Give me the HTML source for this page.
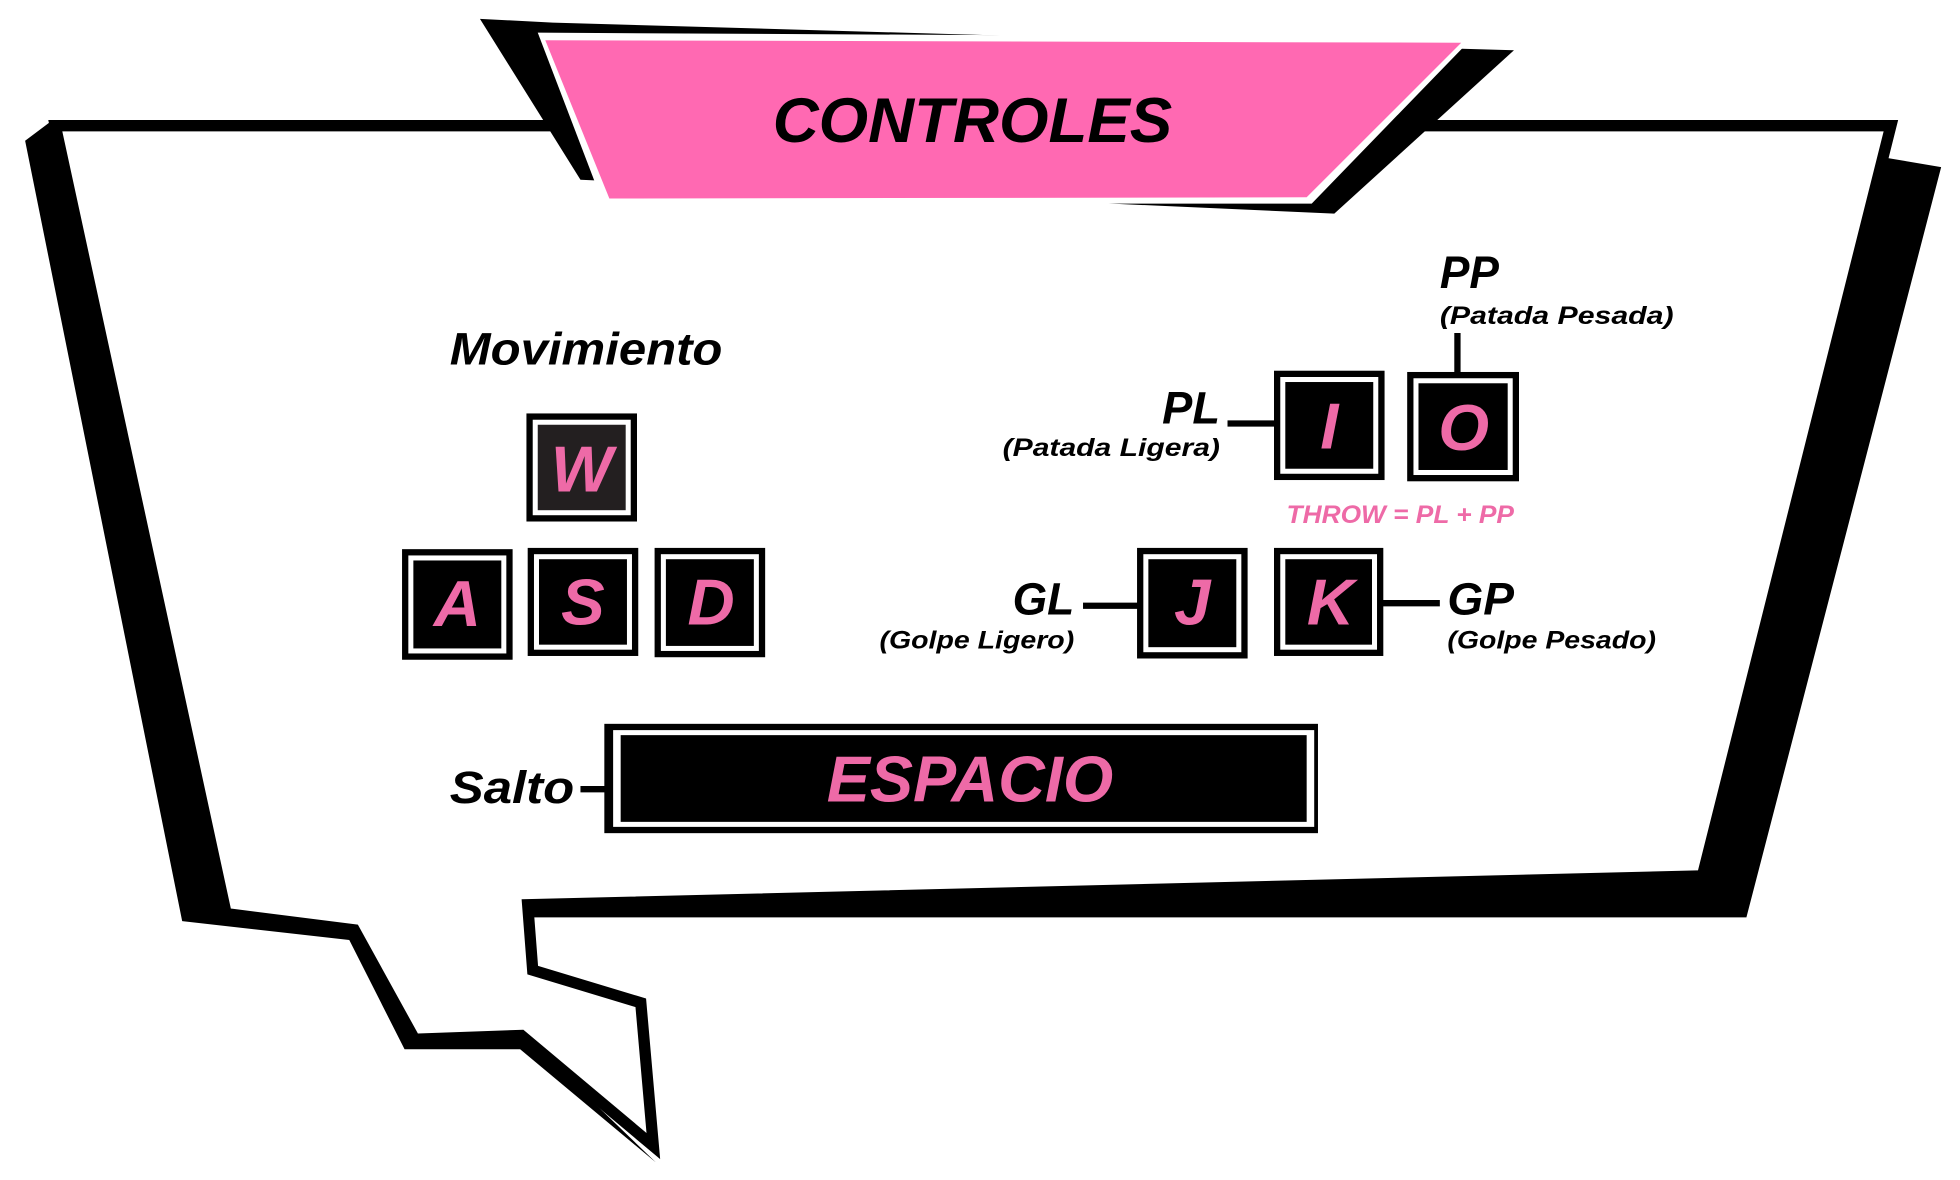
<!DOCTYPE html>
<html><head><meta charset="utf-8"><style>
html,body{margin:0;padding:0;background:#fff;}
svg{display:block;}
text{font-family:"Liberation Sans",sans-serif;font-weight:bold;font-style:italic;}
</style></head><body>
<svg width="1960" height="1180" viewBox="0 0 1560 939" preserveAspectRatio="none" xmlns="http://www.w3.org/2000/svg">
<rect width="1560" height="939" fill="#fff"/>
<g>
<polygon fill="#000" points="20,112 40,97 50,100 180,727 308,740 330,825 415,822 522,925 414,835 322,835 278,748 145,733"/>
<polygon fill="#000" points="1498,125 1545,133 1390,730 420,730 420,718 1355,697"/>
<polygon fill="#fff" stroke="#000" stroke-width="9" stroke-linejoin="miter" points="44,100 1505,100 1355,697 420,720 424,772 510,798 520,912 415,824 330,827 282,740 180,727"/>
</g>
<g>
<polygon fill="#000" points="382,15 440,18 1205,40 1062,170 462,143"/>
<polygon fill="#fff" points="428,26 1172,30 1044,162 480,162"/>
<polygon fill="#ff69b2" points="434,32 1163,34 1040,157 485,158"/>
<text x="615" y="113" font-size="50" textLength="318" lengthAdjust="spacingAndGlyphs" fill="#000">CONTROLES</text>
</g>
<text x="358" y="290" font-size="36" textLength="217" lengthAdjust="spacingAndGlyphs" fill="#000">Movimiento</text>
<g>
<rect x="419" y="329" width="88" height="86" fill="#000"/><rect x="424" y="334" width="78" height="76" fill="#fff"/><rect x="428" y="338" width="70" height="68" fill="#231f20"/>
<text x="463" y="391" font-size="52" text-anchor="middle" fill="#ee6aa7">W</text></g>
<g>
<rect x="320" y="437" width="88" height="88" fill="#000"/><rect x="325" y="442" width="78" height="78" fill="#fff"/><rect x="329" y="446" width="70" height="70" fill="#000"/>
<text x="364" y="498" font-size="52" text-anchor="middle" fill="#ee6aa7">A</text></g>
<g>
<rect x="420" y="436" width="88" height="86" fill="#000"/><rect x="425" y="441" width="78" height="76" fill="#fff"/><rect x="429" y="445" width="70" height="68" fill="#000"/>
<text x="464" y="497" font-size="52" text-anchor="middle" fill="#ee6aa7">S</text></g>
<g>
<rect x="521" y="436" width="88" height="87" fill="#000"/><rect x="526" y="441" width="78" height="77" fill="#fff"/><rect x="530" y="445" width="70" height="69" fill="#000"/>
<text x="566" y="497" font-size="52" text-anchor="middle" fill="#ee6aa7">D</text></g>
<text x="1146" y="229" font-size="36" textLength="47" lengthAdjust="spacingAndGlyphs" fill="#000">PP</text>
<text x="1146" y="258" font-size="20" textLength="186" lengthAdjust="spacingAndGlyphs" fill="#000">(Patada Pesada)</text>
<line x1="1160" y1="265" x2="1160" y2="297" stroke="#000" stroke-width="5"/>
<text x="925" y="337" font-size="36" textLength="46" lengthAdjust="spacingAndGlyphs" fill="#000">PL</text>
<text x="798" y="363" font-size="20" textLength="173" lengthAdjust="spacingAndGlyphs" fill="#000">(Patada Ligera)</text>
<line x1="977" y1="337" x2="1015" y2="337" stroke="#000" stroke-width="5"/>
<g>
<rect x="1014" y="295" width="88" height="87" fill="#000"/><rect x="1019" y="300" width="78" height="77" fill="#fff"/><rect x="1023" y="304" width="70" height="69" fill="#000"/>
<text x="1058" y="357" font-size="52" text-anchor="middle" fill="#ee6aa7">I</text></g>
<g>
<rect x="1120" y="296" width="89" height="87" fill="#000"/><rect x="1125" y="301" width="79" height="77" fill="#fff"/><rect x="1129" y="305" width="71" height="69" fill="#000"/>
<text x="1165" y="358" font-size="52" text-anchor="middle" fill="#ee6aa7">O</text></g>
<text x="1024" y="416" font-size="20" textLength="181" lengthAdjust="spacingAndGlyphs" fill="#ee6aa7">THROW = PL + PP</text>
<text x="806" y="489" font-size="36" textLength="49" lengthAdjust="spacingAndGlyphs" fill="#000">GL</text>
<text x="700" y="516" font-size="20" textLength="155" lengthAdjust="spacingAndGlyphs" fill="#000">(Golpe Ligero)</text>
<line x1="862" y1="482" x2="906" y2="482" stroke="#000" stroke-width="5"/>
<g>
<rect x="905" y="436" width="88" height="88" fill="#000"/><rect x="910" y="441" width="78" height="78" fill="#fff"/><rect x="914" y="445" width="70" height="70" fill="#000"/>
<text x="949" y="497" font-size="52" text-anchor="middle" fill="#ee6aa7">J</text></g>
<g>
<rect x="1014" y="436" width="87" height="86" fill="#000"/><rect x="1019" y="441" width="77" height="76" fill="#fff"/><rect x="1023" y="445" width="69" height="68" fill="#000"/>
<text x="1059" y="497" font-size="52" text-anchor="middle" fill="#ee6aa7">K</text></g>
<line x1="1100" y1="480" x2="1146" y2="480" stroke="#000" stroke-width="5"/>
<text x="1152" y="489" font-size="36" textLength="53" lengthAdjust="spacingAndGlyphs" fill="#000">GP</text>
<text x="1152" y="516" font-size="20" textLength="166" lengthAdjust="spacingAndGlyphs" fill="#000">(Golpe Pesado)</text>
<text x="358" y="639" font-size="36" textLength="99" lengthAdjust="spacingAndGlyphs" fill="#000">Salto</text>
<line x1="462" y1="628" x2="486" y2="628" stroke="#000" stroke-width="5"/>
<g>
<rect x="481" y="576" width="568" height="87" fill="#000"/><rect x="488" y="581" width="558" height="77" fill="#fff"/><rect x="494" y="585" width="546" height="69" fill="#000"/>
<text x="658" y="638" font-size="52" textLength="228" lengthAdjust="spacingAndGlyphs" fill="#ee6aa7">ESPACIO</text></g>
</svg>
</body></html>
